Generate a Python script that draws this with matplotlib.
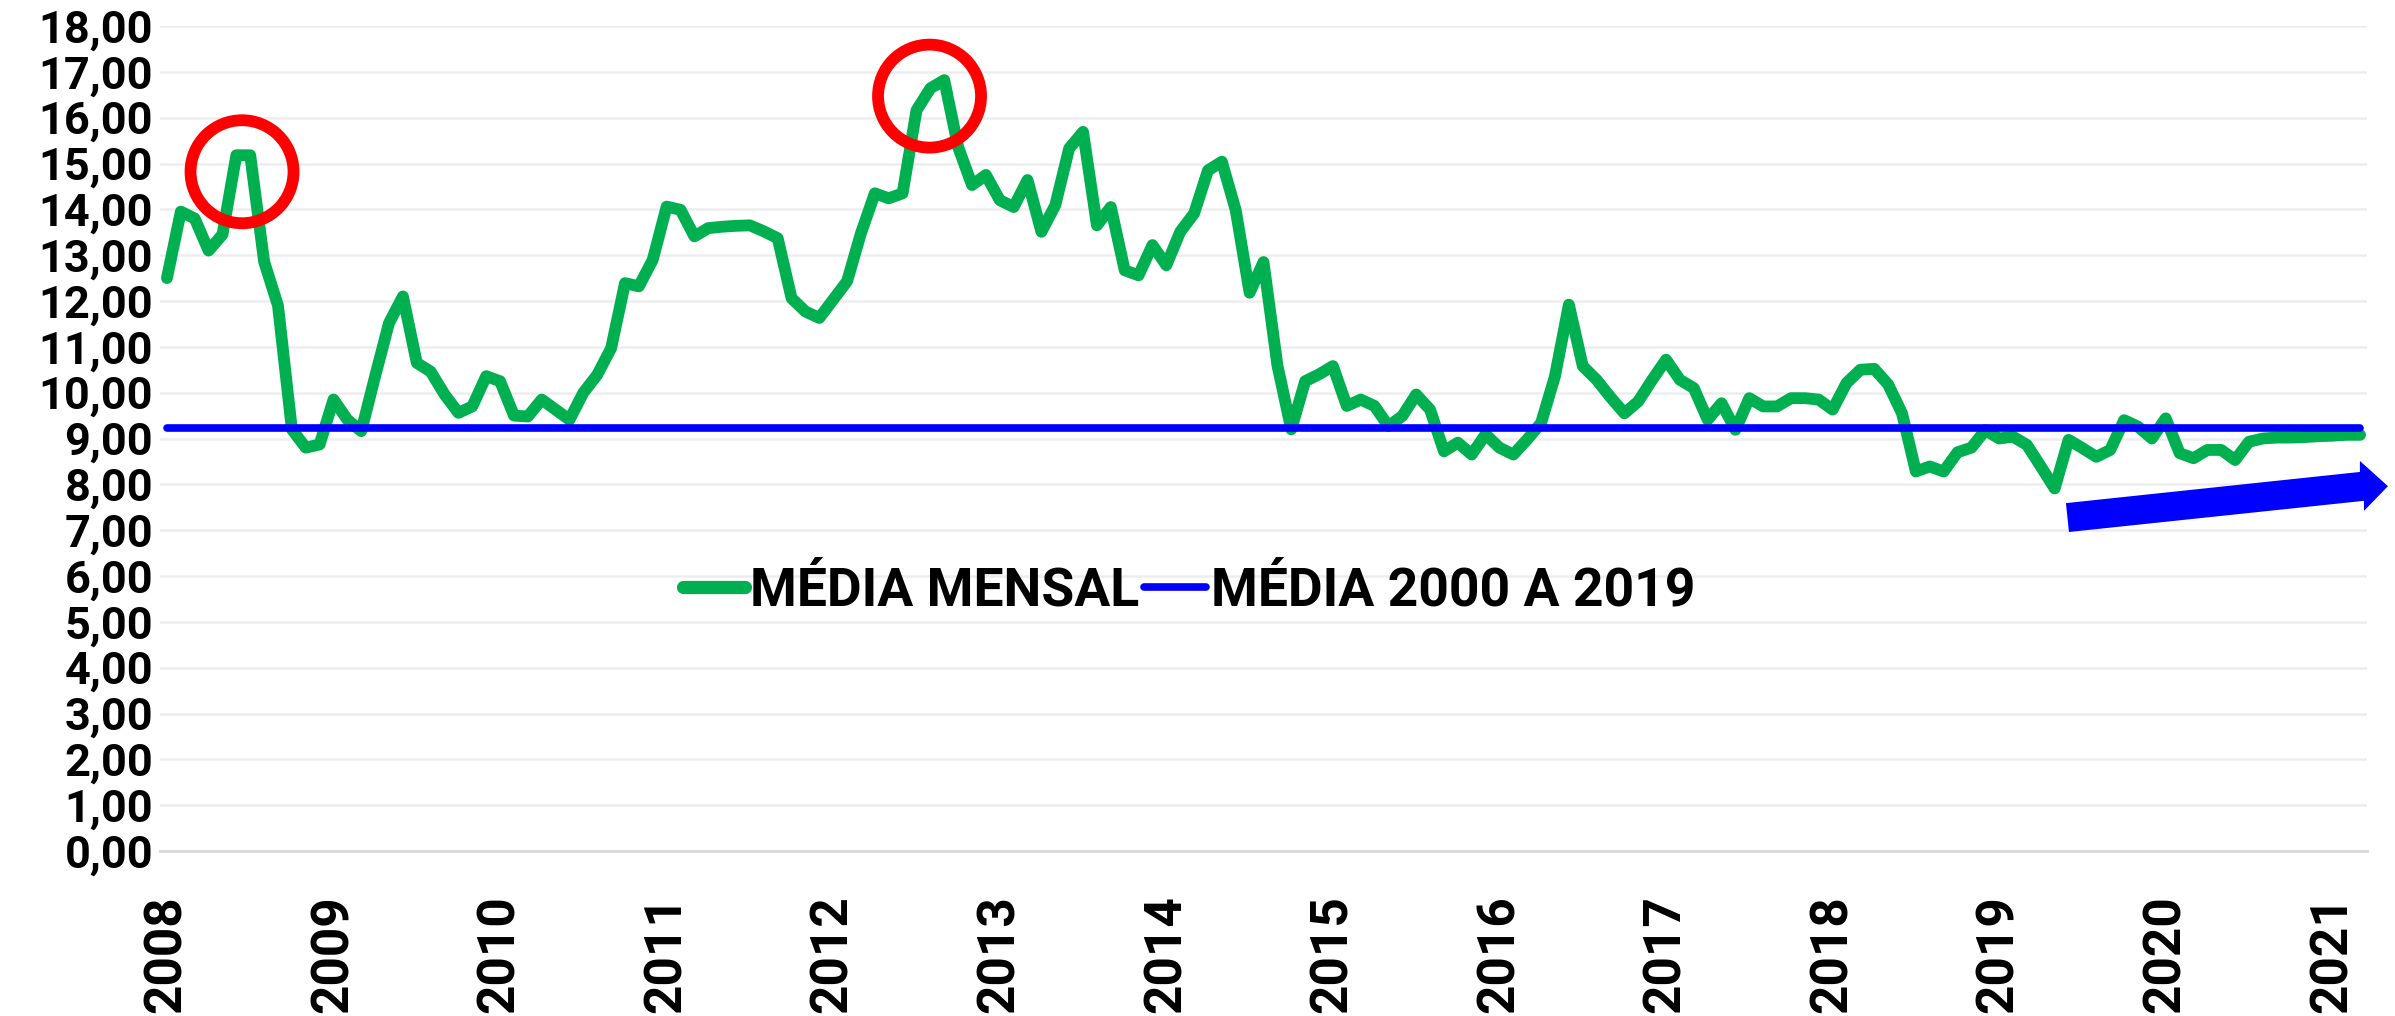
import matplotlib
matplotlib.use("Agg")
import matplotlib.pyplot as plt
from matplotlib.patches import Ellipse, Polygon
from matplotlib.ticker import FixedLocator, FuncFormatter

plt.rcParams['font.family'] = ['Roboto', 'DejaVu Sans']

# ---------------- data ----------------
year_labels = ["2008", "2009", "2010", "2011", "2012", "2013", "2014",
               "2015", "2016", "2017", "2018", "2019", "2020", "2021"]

media_mensal = [
    # 2008
    12.50, 13.95, 13.80, 13.10, 13.45, 15.18, 15.18, 12.86, 11.90, 9.20, 8.80, 8.87,
    # 2009
    9.85, 9.41, 9.16, 10.36, 11.52, 12.10, 10.65, 10.46, 9.96, 9.56, 9.70, 10.36,
    # 2010
    10.25, 9.50, 9.48, 9.85, 9.63, 9.41, 10.00, 10.39, 10.97, 12.39, 12.32, 12.90,
    # 2011
    14.06, 13.99, 13.41, 13.59, 13.62, 13.64, 13.65, 13.52, 13.37, 12.06, 11.77, 11.63,
    # 2012
    12.03, 12.43, 13.48, 14.35, 14.24, 14.35, 16.16, 16.64, 16.82, 15.36, 14.53, 14.75,
    # 2013
    14.20, 14.05, 14.64, 13.51, 14.09, 15.33, 15.69, 13.65, 14.05, 12.67, 12.56, 13.22,
    # 2014
    12.78, 13.51, 13.91, 14.85, 15.04, 13.98, 12.18, 12.85, 10.60, 9.20, 10.25, 10.40,
    # 2015
    10.58, 9.71, 9.85, 9.71, 9.27, 9.49, 9.96, 9.63, 8.72, 8.91, 8.65, 9.09,
    # 2016
    8.80, 8.65, 8.98, 9.34, 10.36, 11.92, 10.58, 10.28, 9.90, 9.55, 9.81, 10.28,
    # 2017
    10.72, 10.28, 10.10, 9.41, 9.77, 9.19, 9.88, 9.70, 9.70, 9.88, 9.88, 9.85,
    # 2018
    9.63, 10.21, 10.50, 10.52, 10.18, 9.55, 8.28, 8.39, 8.28, 8.70, 8.80, 9.18,
    # 2019
    9.00, 9.04, 8.86, 8.39, 7.91, 8.97, 8.79, 8.60, 8.75, 9.40, 9.26, 9.00,
    # 2020
    9.44, 8.68, 8.57, 8.75, 8.75, 8.53, 8.93, 9.00, 9.02, 9.02, 9.03, 9.05,
    # 2021
    9.06, 9.08, 9.08,
]

media_2000_2019 = 9.22

series_names = ["MÉDIA MENSAL", "MÉDIA 2000 A 2019"]

# highlighted peaks (month index, value) and trend arrow outline (month index, value)
circle_centers = [(5.41, 14.82), (54.94, 16.47)]
arrow_outline = [(136.81, 7.59), (157.99, 8.27), (157.99, 8.51), (160.01, 7.96),
                 (158.28, 7.42), (158.28, 7.64), (137.03, 6.96)]

# ---------------- figure ----------------
W, H, DPI = 2395, 1016, 100
fig = plt.figure(figsize=(W / DPI, H / DPI), dpi=DPI)
ax = fig.add_axes([160 / W, 1 - 851 / H, (2367 - 160) / W, (851 - 26) / H])

n = len(media_mensal)
months = list(range(n))

GREEN = "#00B050"
BLUE = "#0000FF"
RED = "#FF0000"

l1, = ax.plot(months, media_mensal, color=GREEN, lw=8.5,
              solid_joinstyle="round", solid_capstyle="round", zorder=3,
              label=series_names[0])
l2, = ax.plot(months, [media_2000_2019] * n, color=BLUE, lw=5.5,
              solid_capstyle="round", zorder=4, label=series_names[1])

ax.set_xlim(-0.5, n - 0.5)
ax.set_ylim(0, 18)

# grid
ax.yaxis.set_major_locator(FixedLocator(list(range(0, 19))))
ax.yaxis.set_major_formatter(FuncFormatter(lambda v, p: f"{v:.2f}".replace(".", ",")))
ax.grid(axis="y", color="#EDEDED", lw=1.8, zorder=0)
ax.set_axisbelow(True)
for s in ["top", "right", "left"]:
    ax.spines[s].set_visible(False)
ax.spines["bottom"].set_color("#D9D9D9")
ax.spines["bottom"].set_linewidth(2.0)

ax.set_xticks([12 * i for i in range(len(year_labels))])
ax.set_xticklabels(year_labels, rotation=90, fontsize=37, fontweight="bold")
ax.tick_params(axis="x", length=0, pad=32)
ax.tick_params(axis="y", length=0, pad=5, labelsize=32.5)
for t in ax.get_yticklabels():
    t.set_fontweight("bold")

# red circles
for (cx, cy) in circle_centers:
    ax.add_patch(Ellipse((cx, cy), width=103 / 13.881, height=103 / 45.83,
                         fill=False, ec=RED, lw=8.5, zorder=5, clip_on=False))

# trend arrow
ax.add_patch(Polygon(arrow_outline, closed=True, fc=BLUE, ec="none",
                     zorder=6, clip_on=False))

leg = fig.legend(handles=[l1, l2], loc="center",
                 bbox_to_anchor=(1189 / W, 1 - 591 / H), ncol=2, frameon=False,
                 prop={"weight": "bold", "size": 38.5},
                 handlelength=1.16, handletextpad=0.1, columnspacing=0.08,
                 borderpad=0, borderaxespad=0)
leg.legend_handles[0].set_linewidth(9.5)
leg.legend_handles[1].set_linewidth(5.5)

fig.savefig("out.png", dpi=DPI, facecolor="white")
